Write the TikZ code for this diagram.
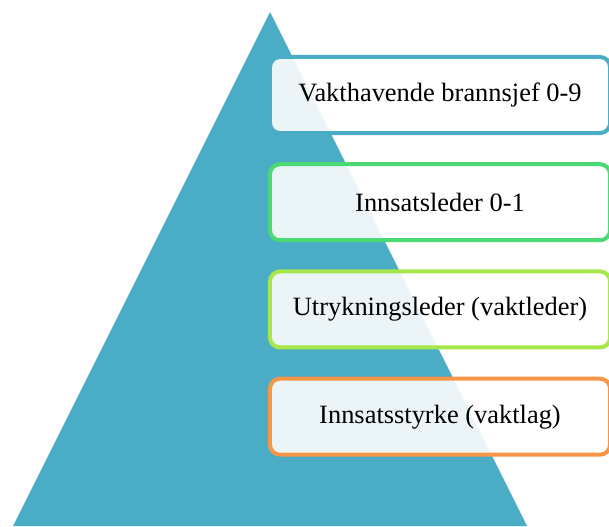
\documentclass[tikz,border=0pt]{standalone}
\usepackage{fontspec}
\setmainfont{Liberation Serif}
\usepackage{tikz}
\usetikzlibrary{positioning}
\usepackage{xcolor}
\definecolor{pyrblue}{HTML}{4BACC6}
\definecolor{rankgreen}{HTML}{4BD974}
\definecolor{ranklime}{HTML}{A6E84B}
\definecolor{rankorange}{HTML}{F79646}

\begin{document}
\begin{tikzpicture}[x=0.025cm, y=-0.025cm,
        rank/.style={draw, line width=0.1cm, rounded corners=0.25cm, fill=white,
            fill opacity=0.89, text opacity=1, minimum width=8.5cm, minimum height=1.9cm,
            font=\fontsize{18.8}{22}\selectfont}]
        \useasboundingbox (0,0) rectangle (609,526);

        % The pyramid behind the boxes
        \fill[pyrblue] (270,12) -- (527,526) -- (13,526) -- cycle;

        % Boxes, top to bottom
        \node[rank, draw=pyrblue] (chief) at (440,95) {Vakthavende brannsjef 0-9};
        \node[rank, draw=rankgreen, below=0.68cm of chief] (lead) {Innsatsleder 0-1};
        \node[rank, draw=ranklime, below=0.68cm of lead] (watch) {Utrykningsleder (vaktleder)};
        \node[rank, draw=rankorange, below=0.68cm of watch] (crew) {Innsatsstyrke (vaktlag)};
    \end{tikzpicture}
\end{document}
